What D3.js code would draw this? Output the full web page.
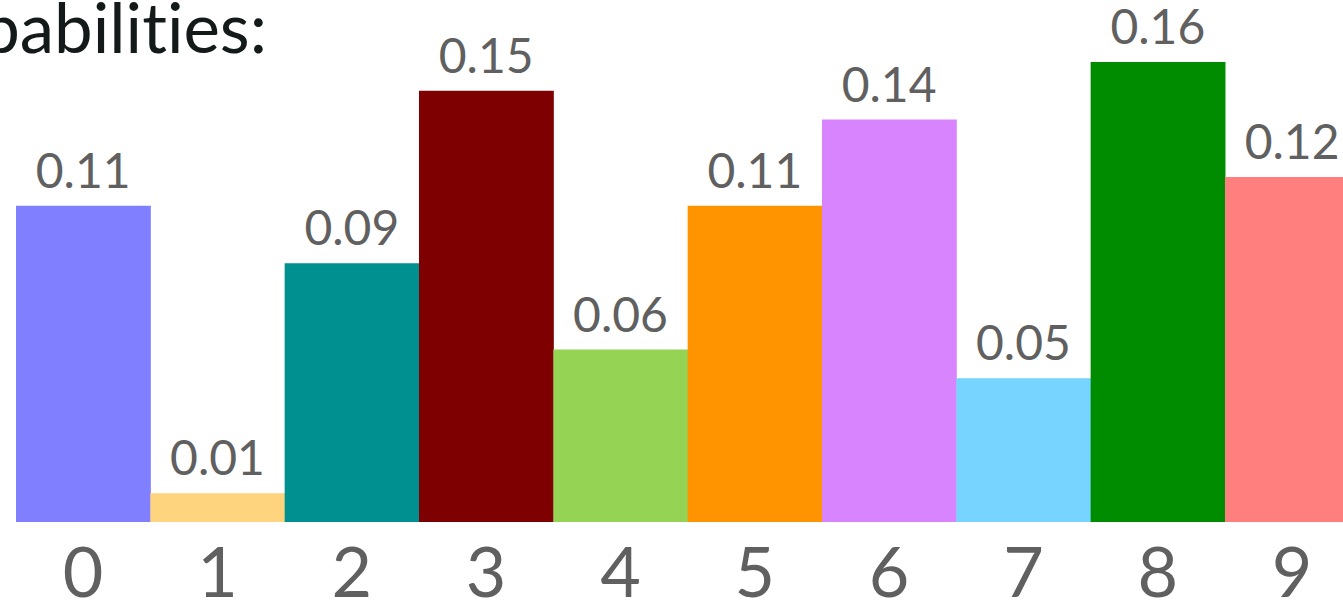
<!DOCTYPE html>
<html><head><meta charset="utf-8">
<script src="https://cdn.jsdelivr.net/npm/d3@7"></script>
<style>html,body{margin:0;padding:0;background:#fff;overflow:hidden} text{font-variant-ligatures:none;font-feature-settings:"liga" 0}</style>
</head><body>
<script>
const categories = ["0","1","2","3","4","5","6","7","8","9"];
const values = [0.11, 0.01, 0.09, 0.15, 0.06, 0.11, 0.14, 0.05, 0.16, 0.12];
const valueLabels = ["0.11","0.01","0.09","0.15","0.06","0.11","0.14","0.05","0.16","0.12"];
const colors = ["#7f7fff","#ffd47f","#009090","#7f0000","#94d353","#ff9400","#d884ff","#77d4ff","#008c00","#ff7f7f"];
const titleText = "Probabilities:";

const W = 1343, H = 600;
const svg = d3.select("body").append("svg").attr("width", W).attr("height", H);
const font = "Lato, 'Open Sans', sans-serif";

const x = d3.scaleBand().domain(categories).range([16, 16 + 10 * 134.33]).padding(0);
const y = d3.scaleLinear().domain([0, 0.16]).range([522, 62]);

svg.append("text").attr("x", 267).attr("y", 53).attr("text-anchor", "end")
  .attr("font-family", font).attr("font-size", 69).attr("fill", "#141a1a").text(titleText);

svg.selectAll("rect.bar").data(values).enter().append("rect")
  .attr("x", (d, i) => x(categories[i])).attr("width", x.bandwidth() + 0.5)
  .attr("y", d => y(d)).attr("height", d => y(0) - y(d))
  .attr("fill", (d, i) => colors[i]);

svg.selectAll("text.val").data(values).enter().append("text")
  .attr("x", (d, i) => x(categories[i]) + x.bandwidth() / 2)
  .attr("y", d => y(d) - 18).attr("text-anchor", "middle")
  .attr("font-family", font).attr("font-size", 48).attr("fill", "#606060")
  .text((d, i) => valueLabels[i]);

const axis = d3.axisBottom(x).tickSize(0).tickPadding(0);
const g = svg.append("g").attr("transform", "translate(0,522)").call(axis);
g.select(".domain").remove();
g.selectAll("text").attr("font-family", font).attr("font-size", 70).attr("fill", "#606060")
  .attr("dy", null).attr("y", 75);
</script>
</body></html>
